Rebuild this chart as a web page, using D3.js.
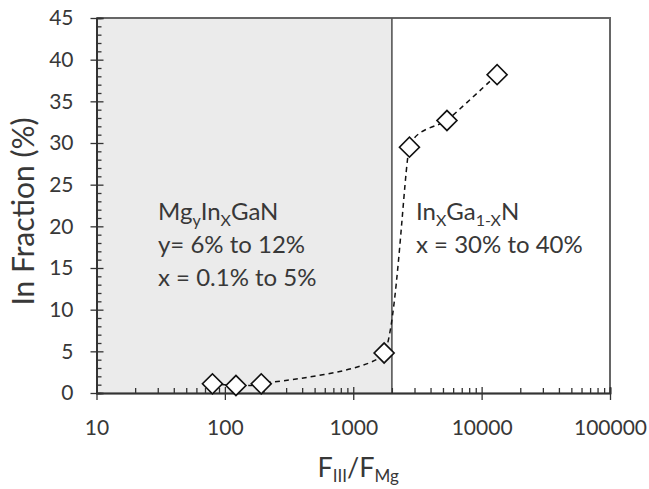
<!DOCTYPE html>
<html>
<head>
<meta charset="utf-8">
<script src="https://cdn.jsdelivr.net/npm/d3@7/dist/d3.min.js"></script>
<style>
  body { margin: 0; background: #fff; }
  text { font-family: Lato, "Open Sans", sans-serif; fill: #383838; }
</style>
</head>
<body>
<div id="plot"></div>
<script>
// data
const ratio = [80, 122, 192, 1740, 2740, 5370, 13200];
const inFraction = [1.1, 0.9, 1.1, 4.8, 29.5, 32.7, 38.2];
const boundary = 2000;
const xTicks = [10, 100, 1000, 10000, 100000];
const yTicks = [0, 5, 10, 15, 20, 25, 30, 35, 40, 45];

const width = 649,
  height = 489;
const margin = { left: 96.5, right: 39, top: 18, bottom: 96 };

const x = d3.scaleLog().domain([10, 100000]).range([margin.left, width - margin.right]);
const y = d3.scaleLinear().domain([0, 45]).range([height - margin.bottom, margin.top]);

const svg = d3.select("#plot").append("svg").attr("width", width).attr("height", height);

// shaded Mg-doped region
svg.append("rect")
  .attr("x", x(10)).attr("y", y(45))
  .attr("width", x(boundary) - x(10)).attr("height", y(0) - y(45))
  .attr("fill", "#ebebeb");

// frame top / right
svg.append("path")
  .attr("d", `M${x(10)},${y(45)}H${x(100000)}V${y(0)}`)
  .attr("fill", "none").attr("stroke", "#666").attr("stroke-width", 2);

// boundary line
svg.append("line")
  .attr("x1", x(boundary)).attr("x2", x(boundary))
  .attr("y1", y(45)).attr("y2", y(0))
  .attr("stroke", "#555").attr("stroke-width", 1.6);

// y axis
const yMinor = d3.range(0, 46).filter(d => d % 5 !== 0);
const gy = svg.append("g").attr("transform", `translate(${margin.left},0)`);
gy.call(d3.axisLeft(y).tickValues(yTicks).tickSizeInner(6).tickSizeOuter(0).tickPadding(17));
gy.append("g").call(d3.axisRight(y).tickValues(yTicks).tickSize(7).tickFormat(""));
gy.append("g").call(d3.axisRight(y).tickValues(yMinor).tickSize(5).tickFormat(""));

// x axis
const xMinor = [];
[10, 100, 1000, 10000].forEach(d => d3.range(2, 10).forEach(k => xMinor.push(d * k)));
const gx = svg.append("g").attr("transform", `translate(0,${y(0)})`);
gx.call(d3.axisBottom(x).tickValues(xTicks).tickFormat(d3.format("d")).tickSizeInner(7).tickSizeOuter(0).tickPadding(20));
gx.append("g").call(d3.axisTop(x).tickValues(xTicks).tickSize(6).tickFormat(""));
gx.append("g").call(d3.axisTop(x).tickValues(xMinor).tickSize(5).tickFormat(""));

svg.selectAll(".domain").attr("stroke", "#333").attr("stroke-width", 1.6);
svg.selectAll(".tick line").attr("stroke", "#333").attr("stroke-width", 1.3);
svg.selectAll(".tick text").style("font-size", "21px").attr("fill", "#383838");

// dashed smoothed trend
const points = ratio.map((r, i) => [r, inFraction[i]]);
svg.append("path")
  .datum(points)
  .attr("d", d3.line().x(d => x(d[0])).y(d => y(d[1])).curve(d3.curveCardinal.tension(0.5)))
  .attr("fill", "none").attr("stroke", "#111").attr("stroke-width", 1.5)
  .attr("stroke-dasharray", "5,4");

// diamonds
svg.append("g").selectAll("path").data(points).join("path")
  .attr("d", d3.symbol(d3.symbolSquare, 200))
  .attr("transform", d => `translate(${x(d[0])},${y(d[1])}) rotate(45)`)
  .attr("fill", "#fff").attr("stroke", "#111").attr("stroke-width", 1.6);

// region labels
const addLabel = (x0, y0, lines) => {
  const t = svg.append("text").attr("x", x0).attr("y", y0).style("font-size", "24px");
  lines.forEach((parts, i) => {
    parts.forEach((p, j) => {
      const ts = t.append("tspan").text(p[0]);
      if (j === 0) ts.attr("x", x0).attr("dy", i === 0 ? 0 : 33);
      if (p[1] === "sub") ts.style("font-size", "16px").attr("dy", 6);
      else if (j > 0 && parts[j - 1][1] === "sub") ts.attr("dy", -6);
    });
  });
};
addLabel(158, 220, [
  [["Mg"], ["y", "sub"], ["In"], ["X", "sub"], ["GaN"]],
  [["y= 6% to 12%"]],
  [["x = 0.1% to 5%"]],
]);
addLabel(416, 220, [
  [["In"], ["X", "sub"], ["Ga"], ["1-X", "sub"], ["N"]],
  [["x = 30% to 40%"]],
]);

// axis titles
const xt = svg.append("text")
  .attr("x", (x(10) + x(100000)) / 2 + 5).attr("y", 477)
  .attr("text-anchor", "middle").style("font-size", "27px");
xt.append("tspan").text("F");
xt.append("tspan").text("III").style("font-size", "17px").attr("dy", 5);
xt.append("tspan").text("/F").attr("dy", -5);
xt.append("tspan").text("Mg").style("font-size", "17px").attr("dy", 5);

svg.append("text")
  .attr("transform", `translate(34,${(y(0) + y(45)) / 2 + 6}) rotate(-90)`)
  .attr("text-anchor", "middle").style("font-size", "30px")
  .text("In Fraction (%)");
</script>
</body>
</html>
